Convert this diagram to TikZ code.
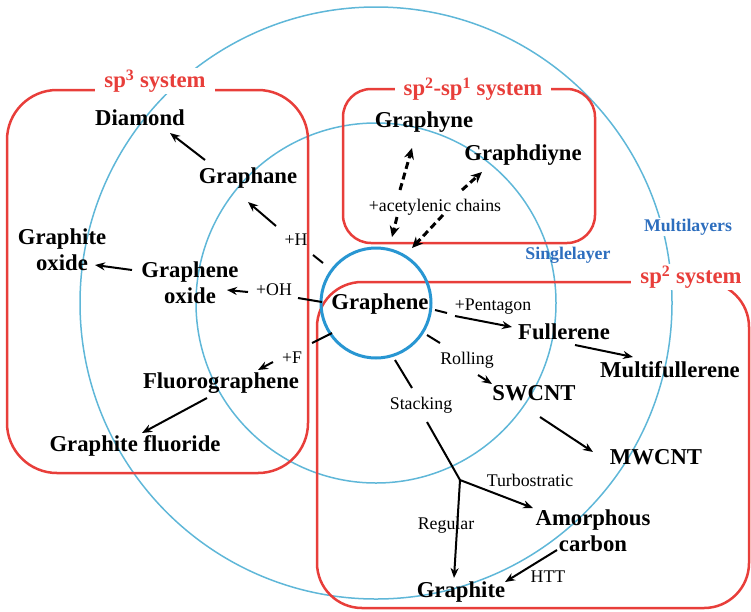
\documentclass[tikz,border=0pt]{standalone}
\usepackage{fontspec}
\setmainfont{Liberation Serif}
\usetikzlibrary{arrows.meta}
\definecolor{boxred}{RGB}{232,62,58}
\definecolor{ringblue}{RGB}{95,183,216}
\definecolor{coreblue}{RGB}{40,150,210}
\definecolor{txtblue}{RGB}{45,110,190}
\tikzset{
  big/.style={font=\bfseries\fontsize{22.7}{26}\selectfont, inner sep=1pt, align=center},
  lab/.style={font=\fontsize{17.8}{20}\selectfont, inner sep=1pt},
  blab/.style={font=\bfseries\fontsize{17.8}{20}\selectfont, text=txtblue, inner sep=1pt},
  syslab/.style={font=\bfseries\fontsize{22.7}{26}\selectfont, text=boxred, fill=white, inner xsep=9pt, inner ysep=2pt},
  arr/.style={line width=2pt, -{Stealth[length=10pt,width=8pt]}},
  seg/.style={line width=2pt},
  darr/.style={line width=3pt, dash pattern=on 7pt off 4pt, -{Stealth[length=11pt,width=10pt]}},
  ring/.style={draw=ringblue, line width=1.5pt},
  sysbox/.style={draw=boxred, line width=2.5pt},
}
\begin{document}
\begin{tikzpicture}[x=1pt,y=-1pt]
\useasboundingbox (0,0) rectangle (751,611);
% rings
\coordinate (ctr) at (376,303);
\draw[ring] (ctr) circle[radius=296];
\draw[ring] (ctr) circle[radius=180];
% system boxes
\draw[sysbox, rounded corners=50] (7,90) rectangle (308,473);
\draw[sysbox, rounded corners=28] (343,89) rectangle (595,243);
\draw[sysbox, rounded corners=45] (317,282) rectangle (749,608);
\draw[draw=coreblue, line width=3pt] (ctr) circle[radius=55];
% system labels
\node[syslab] (sp3) at (155,81) {sp\textsuperscript{3} system};
\node[syslab] (sp21) at (473,89) {sp\textsuperscript{2}-sp\textsuperscript{1} system};
\node[syslab] (sp2) at (691,277) {sp\textsuperscript{2} system};
\node[blab, fill=white] (multi) at (688,227) {Multilayers};
\node[blab] (single) at (568,255) {Singlelayer};
% main nodes
\node[big] (graphene) at (380,304) {Graphene};
\node[big] (diamond) at (140,118) {Diamond};
\node[big] (graphane) at (248,178) {Graphane};
\node[big] (gtoxide) at (62,250) {Graphite\\oxide};
\node[big] (gnoxide) at (190,283) {Graphene\\oxide};
\node[big] (fluoro) at (221,383) {Fluorographene};
\node[big] (gtfluor) at (135,446) {Graphite fluoride};
\node[big] (graphyne) at (424,122) {Graphyne};
\node[big] (graphdiyne) at (523,155) {Graphdiyne};
\node[big] (fullerene) at (564,332) {Fullerene};
\node[big] (multiful) at (670,370) {Multifullerene};
\node[big] (swcnt) at (534,393) {SWCNT};
\node[big] (mwcnt) at (656,457) {MWCNT};
\node[big] (amorph) at (593,531) {Amorphous\\carbon};
\node[big] (graphite) at (461,592) {Graphite};
% small labels
\node[lab] (lH) at (296,240) {+H};
\node[lab] (lOH) at (274,290) {+OH};
\node[lab] (lF) at (292,358) {+F};
\node[lab] (lAcet) at (435,207) {+acetylenic chains};
\node[lab] (lPent) at (493,307) {+Pentagon};
\node[lab] (lRoll) at (467,360) {Rolling};
\node[lab] (lStack) at (421,405) {Stacking};
\node[lab] (lTurbo) at (530,480) {Turbostratic};
\node[lab] (lReg) at (446,525) {Regular};
\node[lab] (lHTT) at (548,577) {HTT};
\coordinate (junc) at (460,480);
% sp3 connectors
\draw[arr] ([shift={(-43,-18)}]graphane.center) -- ([shift={(30,15)}]diamond.center);
\draw[seg] ([shift={(-57,-41)}]graphene.center) -- ([shift={(17,15)}]lH.center);
\draw[arr] ([shift={(-20,-14)}]lH.center) -- ([shift={(0,24)}]graphane.center);
\draw[seg] ([shift={(-58,-2)}]graphene.center) -- ([shift={(24,8)}]lOH.center);
\draw[arr] ([shift={(-26,2)}]lOH.center) -- ([shift={(37,7)}]gnoxide.center);
\draw[seg] ([shift={(-48,29)}]graphene.center) -- ([shift={(20,-15)}]lF.center);
\draw[arr] ([shift={(-19,4)}]lF.center) -- ([shift={(37,-13)}]fluoro.center);
\draw[arr] ([shift={(-14,15)}]fluoro.center) -- ([shift={(7,-13)}]gtfluor.center);
\draw[arr] ([shift={(-58,-13)}]gnoxide.center) -- ([shift={(33,15)}]gtoxide.center);
% sp2-sp1 connectors
\draw[darr] ([shift={(-38,10)}]lAcet.center) -- ([shift={(12,-67)}]graphene.center);
\draw[darr] ([shift={(8,8)}]lAcet.center) -- ([shift={(32,-56)}]graphene.center);
\draw[darr] ([shift={(-35,-17)}]lAcet.center) -- ([shift={(-12,26)}]graphyne.center);
\draw[darr] ([shift={(27,-17)}]lAcet.center) -- ([shift={(-41,17)}]graphdiyne.center);
% sp2 connectors
\draw[seg] ([shift={(55,6)}]graphene.center) -- ([shift={(-46,6)}]lPent.center);
\draw[arr] ([shift={(-38,9)}]lPent.center) -- ([shift={(-52,-5)}]fullerene.center);
\draw[arr] ([shift={(11,13)}]fullerene.center) -- ([shift={(-37,-13)}]multiful.center);
\draw[seg] ([shift={(47,31)}]graphene.center) -- ([shift={(-27,-17)}]lRoll.center);
\draw[arr] ([shift={(11,15)}]lRoll.center) -- ([shift={(-42,-9)}]swcnt.center);
\draw[arr] ([shift={(6,24)}]swcnt.center) -- ([shift={(-63,-5)}]mwcnt.center);
\draw[seg] ([shift={(15,56)}]graphene.center) -- ([shift={(-9,-17)}]lStack.center);
\draw[seg] ([shift={(6,17)}]lStack.center) -- (junc);
\draw[arr] (junc) -- ([shift={(-60,-23)}]amorph.center);
\draw[arr] (junc) -- ([shift={(-7,-14)}]graphite.center);
\draw[arr] ([shift={(-36,19)}]amorph.center) -- ([shift={(44,-10)}]graphite.center);
\end{tikzpicture}
\end{document}
